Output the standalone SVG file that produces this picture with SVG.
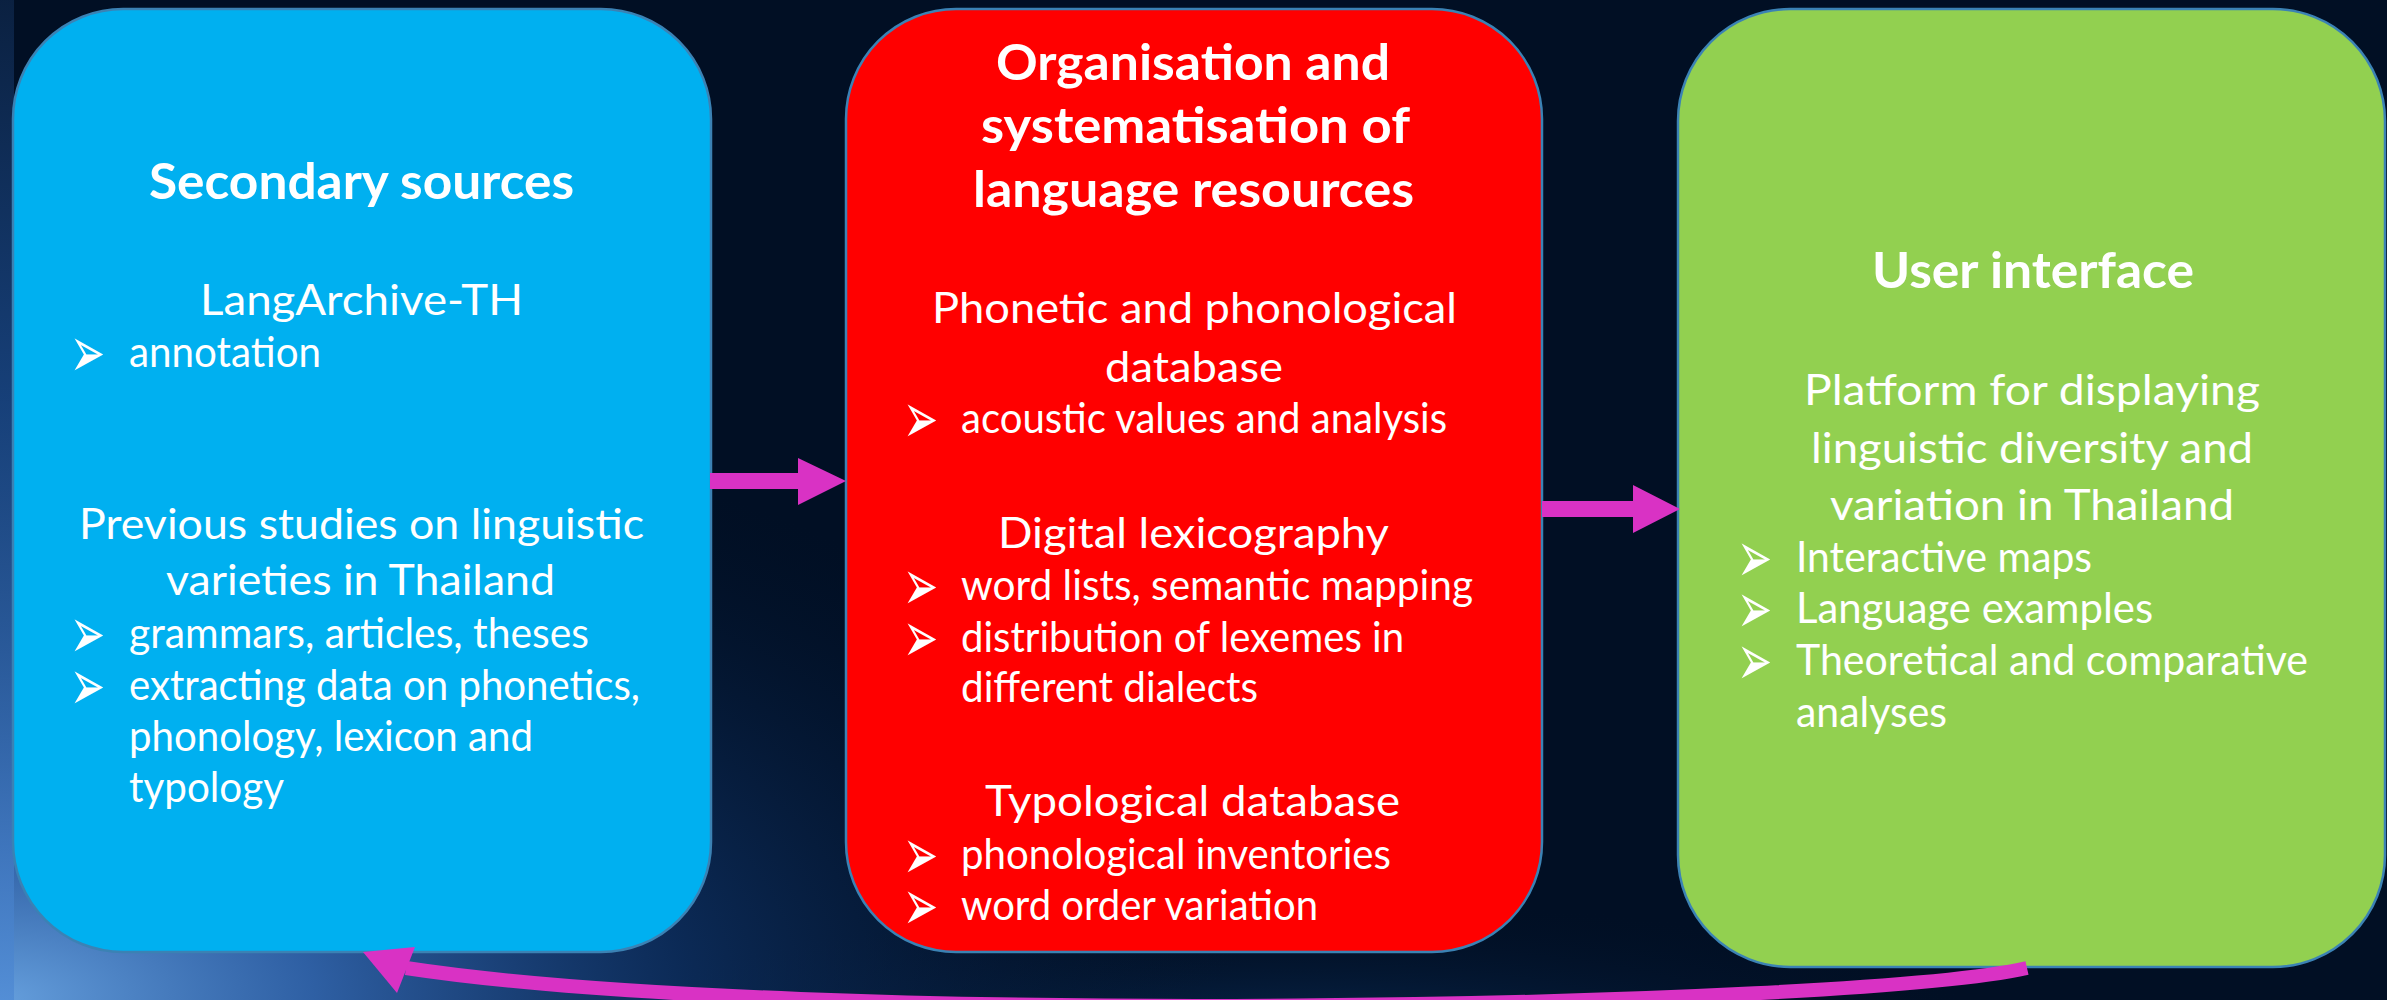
<svg xmlns="http://www.w3.org/2000/svg" width="2387" height="1000" viewBox="0 0 2387 1000">
  <defs>
    <radialGradient id="bgGlow" cx="0" cy="1000" r="1" gradientUnits="userSpaceOnUse" gradientTransform="translate(0 1000) scale(1250 620) translate(0 -1000)">
      <stop offset="0" stop-color="#6aa6e6" stop-opacity="0.95"/>
      <stop offset="0.25" stop-color="#3a74c4" stop-opacity="0.8"/>
      <stop offset="0.55" stop-color="#14407f" stop-opacity="0.55"/>
      <stop offset="1" stop-color="#031630" stop-opacity="0"/>
    </radialGradient>
    <radialGradient id="bgGlow2" cx="1300" cy="1040" r="1" gradientUnits="userSpaceOnUse" gradientTransform="translate(1300 1040) scale(700 140) translate(-1300 -1040)">
      <stop offset="0" stop-color="#0b2f5c" stop-opacity="0.8"/>
      <stop offset="1" stop-color="#021228" stop-opacity="0"/>
    </radialGradient>
    <linearGradient id="leftEdge" x1="0" y1="0" x2="0" y2="1">
      <stop offset="0" stop-color="#0d2548"/>
      <stop offset="0.4" stop-color="#1c4c8e"/>
      <stop offset="1" stop-color="#4f8ad4"/>
    </linearGradient>
    <style>
      .box { stroke: #3b82b4; stroke-width: 2.5; }
      .t { font-family: Lato, "Open Sans", "Liberation Sans", sans-serif; fill: #ffffff; font-size: 42px; font-weight: 400; }
      .h { font-family: Lato, "Open Sans", "Liberation Sans", sans-serif; fill: #ffffff; font-size: 50px; font-weight: 700; }
      .b { font-family: "DejaVu Sans", sans-serif; fill: #ffffff; font-size: 40px; }
      .conn { fill: #d932c4; }
    </style>
  </defs>

  <g id="background">
    <rect x="0" y="0" width="2387" height="1000" fill="#010f24"/>
    <rect x="0" y="0" width="2387" height="1000" fill="url(#bgGlow2)"/>
    <rect x="0" y="0" width="2387" height="1000" fill="url(#bgGlow)"/>
    <rect x="0" y="0" width="14" height="1000" fill="url(#leftEdge)" opacity="0.8"/>
  </g>

  <g id="node-secondary">
    <rect class="box" x="13" y="9" width="698" height="943" rx="110" ry="110" fill="#00b0f0"/>
    <text class="h" x="149" y="199" textLength="425" lengthAdjust="spacingAndGlyphs">Secondary sources</text>
    <text class="t" x="200" y="315" textLength="323" lengthAdjust="spacingAndGlyphs">LangArchive-TH</text>
    <text class="b" transform="translate(70,377) scale(1.05,1.8)">➢</text>
    <text class="t" x="129" y="367" textLength="192" lengthAdjust="spacingAndGlyphs">annotation</text>
    <text class="t" x="79" y="539" textLength="565" lengthAdjust="spacingAndGlyphs">Previous studies on linguistic</text>
    <text class="t" x="166" y="595" textLength="389" lengthAdjust="spacingAndGlyphs">varieties in Thailand</text>
    <text class="b" transform="translate(70,658) scale(1.05,1.8)">➢</text>
    <text class="t" x="129" y="648" textLength="460" lengthAdjust="spacingAndGlyphs">grammars, articles, theses</text>
    <text class="b" transform="translate(70,710) scale(1.05,1.8)">➢</text>
    <text class="t" x="129" y="700" textLength="511" lengthAdjust="spacingAndGlyphs">extracting data on phonetics,</text>
    <text class="t" x="129" y="751" textLength="404" lengthAdjust="spacingAndGlyphs">phonology, lexicon and</text>
    <text class="t" x="129" y="802" textLength="155" lengthAdjust="spacingAndGlyphs">typology</text>
  </g>

  <g id="node-organisation">
    <rect class="box" x="846" y="9" width="696" height="943" rx="110" ry="110" fill="#ff0000"/>
    <text class="h" x="996" y="80" textLength="394" lengthAdjust="spacingAndGlyphs">Organisation and</text>
    <text class="h" x="981" y="143" textLength="429" lengthAdjust="spacingAndGlyphs">systematisation of</text>
    <text class="h" x="973" y="207" textLength="441" lengthAdjust="spacingAndGlyphs">language resources</text>
    <text class="t" x="932" y="323" textLength="525" lengthAdjust="spacingAndGlyphs">Phonetic and phonological</text>
    <text class="t" x="1105" y="382" textLength="178" lengthAdjust="spacingAndGlyphs">database</text>
    <text class="b" transform="translate(903,443) scale(1.05,1.8)">➢</text>
    <text class="t" x="961" y="433" textLength="486" lengthAdjust="spacingAndGlyphs">acoustic values and analysis</text>
    <text class="t" x="998" y="548" textLength="391" lengthAdjust="spacingAndGlyphs">Digital lexicography</text>
    <text class="b" transform="translate(903,610) scale(1.05,1.8)">➢</text>
    <text class="t" x="961" y="600" textLength="512" lengthAdjust="spacingAndGlyphs">word lists, semantic mapping</text>
    <text class="b" transform="translate(903,662) scale(1.05,1.8)">➢</text>
    <text class="t" x="961" y="652" textLength="443" lengthAdjust="spacingAndGlyphs">distribution of lexemes in</text>
    <text class="t" x="961" y="702" textLength="297" lengthAdjust="spacingAndGlyphs">different dialects</text>
    <text class="t" x="985" y="816" textLength="415" lengthAdjust="spacingAndGlyphs">Typological database</text>
    <text class="b" transform="translate(903,879) scale(1.05,1.8)">➢</text>
    <text class="t" x="961" y="869" textLength="430" lengthAdjust="spacingAndGlyphs">phonological inventories</text>
    <text class="b" transform="translate(903,930) scale(1.05,1.8)">➢</text>
    <text class="t" x="961" y="920" textLength="357" lengthAdjust="spacingAndGlyphs">word order variation</text>
  </g>

  <g id="node-interface">
    <rect class="box" x="1678" y="9" width="707" height="958" rx="112" ry="112" fill="#92d050"/>
    <text class="h" x="1872" y="288" textLength="322" lengthAdjust="spacingAndGlyphs">User interface</text>
    <text class="t" x="1804" y="405" textLength="456" lengthAdjust="spacingAndGlyphs">Platform for displaying</text>
    <text class="t" x="1811" y="463" textLength="442" lengthAdjust="spacingAndGlyphs">linguistic diversity and</text>
    <text class="t" x="1830" y="520" textLength="404" lengthAdjust="spacingAndGlyphs">variation in Thailand</text>
    <text class="b" transform="translate(1737,582) scale(1.05,1.8)">➢</text>
    <text class="t" x="1796" y="572" textLength="296" lengthAdjust="spacingAndGlyphs">Interactive maps</text>
    <text class="b" transform="translate(1737,633) scale(1.05,1.8)">➢</text>
    <text class="t" x="1796" y="623" textLength="357" lengthAdjust="spacingAndGlyphs">Language examples</text>
    <text class="b" transform="translate(1737,685) scale(1.05,1.8)">➢</text>
    <text class="t" x="1796" y="675" textLength="512" lengthAdjust="spacingAndGlyphs">Theoretical and comparative</text>
    <text class="t" x="1796" y="727" textLength="151" lengthAdjust="spacingAndGlyphs">analyses</text>
  </g>

  <g id="connectors">
    <polygon class="conn" points="710,473 798,473 798,458 846,481 798,505 798,489 710,489"/>
    <polygon class="conn" points="1542,501 1633,501 1633,485 1680,509 1633,533 1633,517 1542,517"/>
    <path d="M2027,968 C1850,1008 800,1028 406,968" fill="none" stroke="#d932c4" stroke-width="14"/>
    <polygon class="conn" points="363,952 415,947 397,993"/>
  </g>
</svg>
